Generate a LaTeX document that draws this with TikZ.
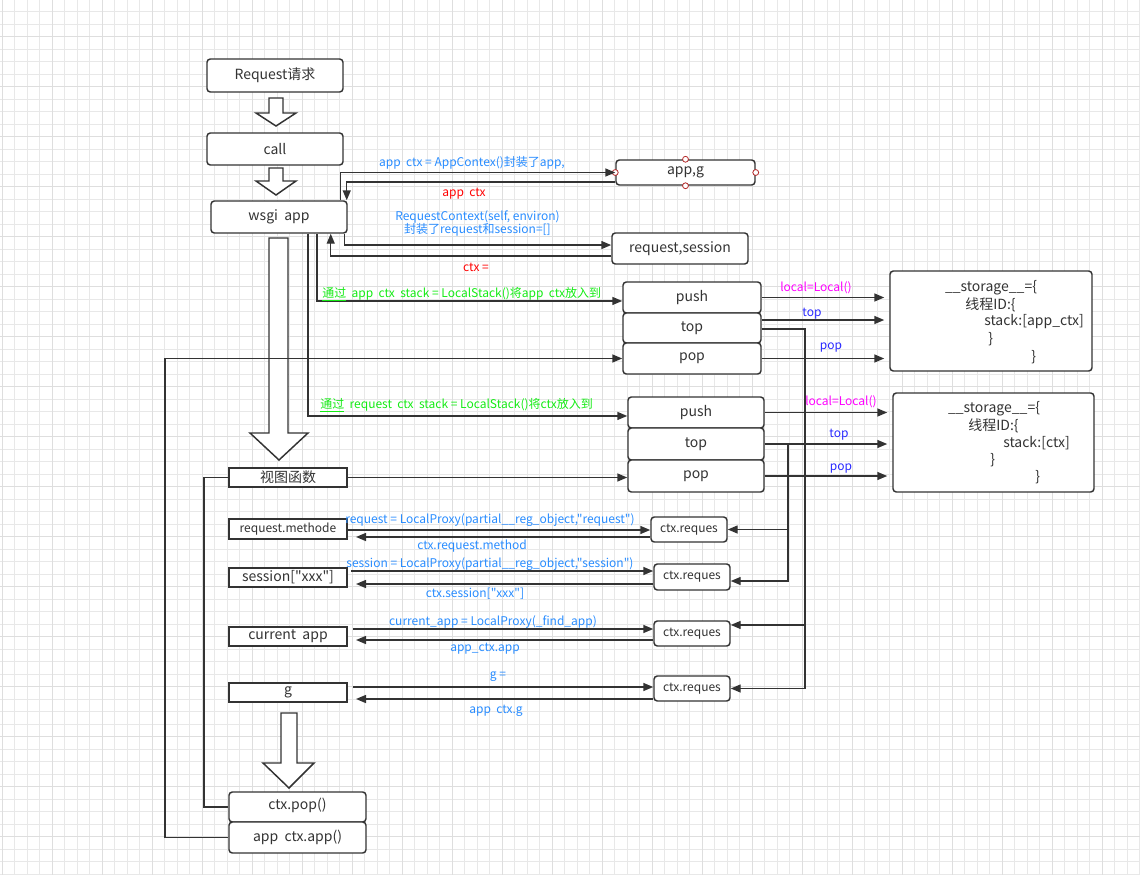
\documentclass[tikz,border=0pt]{standalone}
\usepackage{fontspec}
\setmainfont{Noto Sans CJK SC}[Ligatures=TeXOff]
\usetikzlibrary{arrows.meta}

\definecolor{linegray}{RGB}{51,51,51}
\definecolor{textgray}{RGB}{51,51,51}
\definecolor{lblblue}{RGB}{40,140,255}
\definecolor{topblue}{RGB}{40,40,255}
\definecolor{lblred}{RGB}{255,0,0}
\definecolor{lblpink}{RGB}{255,0,255}
\definecolor{lblgreen}{RGB}{20,235,20}
\definecolor{handlered}{RGB}{180,40,40}

\tikzset{
  box/.style={draw=linegray, line width=1.1pt, rounded corners=2.5pt, fill=white,
    text=textgray, inner sep=0pt, font=\fontsize{10.5}{12}\selectfont},
  sqbox/.style={box, rounded corners=0pt},
  smallbox/.style={box, font=\fontsize{9}{10}\selectfont},
  wire/.style={draw=linegray, line width=1.1pt},
  arr/.style={wire, -{Triangle[length=7.5pt,width=6pt]}},
  hollow/.style={draw=linegray, line width=1.1pt, fill=white},
  lbl/.style={inner sep=0pt, font=\fontsize{9}{9.75}\selectfont},
  stortext/.style={inner sep=0pt, text=textgray, font=\fontsize{10.5}{12}\selectfont},
  handle/.style={draw=handlered, fill=white, line width=0.6pt},
  gridminor/.style={draw=black!9, line width=0.6pt},
  gridmajor/.style={draw=black!13, line width=0.75pt}
}

\begin{document}
\begin{tikzpicture}[x=0.75pt,y=0.75pt,yscale=-1,xscale=1]
\useasboundingbox (0,0) rectangle (1140,875);

%Background grid
\foreach \i in {0,...,91} \draw[gridminor] (2+12.5*\i,0) -- (2+12.5*\i,875);
\foreach \j in {0,...,69} \draw[gridminor] (0,11.7+12.5*\j) -- (1140,11.7+12.5*\j);
\foreach \i in {0,...,22} \draw[gridmajor] (2+50*\i,0) -- (2+50*\i,875);
\foreach \j in {0,...,16} \draw[gridmajor] (0,36.7+50*\j) -- (1140,36.7+50*\j);

%Shape: Down Arrow
\draw[hollow] (269,98) -- (283,98) -- (283,113) -- (296,113) -- (276,126) -- (256,113) -- (269,113) -- cycle ;
%Shape: Down Arrow
\draw[hollow] (269,168) -- (283,168) -- (283,181) -- (296,181) -- (276,195) -- (256,181) -- (269,181) -- cycle ;
%Shape: Down Arrow
\draw[hollow] (269,238) -- (288,238) -- (288,433) -- (308,433) -- (279,460) -- (250,433) -- (269,433) -- cycle ;
%Shape: Down Arrow
\draw[hollow] (281,713) -- (297,713) -- (297,763) -- (314,763) -- (289,788) -- (263,763) -- (281,763) -- cycle ;

%Left column
\node[box, minimum width=102pt, minimum height=24.75pt] (req) at (275,75.5) {Request请求};
\node[box, minimum width=102pt, minimum height=24pt] (call) at (275,149) {call};
\node[box, minimum width=102pt, minimum height=24pt] (wsgi) at (279,217) {wsgi\ \ app};
\node[sqbox, minimum width=88.5pt, minimum height=14.25pt] (view) at (288,477.5) {视图函数};
\node[sqbox, minimum width=88.5pt, minimum height=15pt, font=\fontsize{9}{10}\selectfont] (rm) at (288,529) {request.methode};
\node[sqbox, minimum width=88.5pt, minimum height=14.25pt] (sx) at (288,577.5) {session["xxx"]};
\node[sqbox, minimum width=88.5pt, minimum height=14.25pt] (ca) at (288,636.5) {current\ \ app};
\node[sqbox, minimum width=88.5pt, minimum height=14.25pt] (gg) at (288,692.5) {g};
\node[box, minimum width=102.75pt, minimum height=22.5pt] (cpop) at (297.5,807) {\raisebox{5pt}{ctx.pop()}};
\node[box, minimum width=102.75pt, minimum height=23.25pt] (capp) at (297.5,837.5) {app\ \ ctx.app()};

%Context objects
\node[box, minimum width=104.25pt, minimum height=18.75pt] (appg) at (685.5,172.5) {app,g};
\node[box, minimum width=102pt, minimum height=23.25pt] (reqses) at (680,248.5) {request,session};

%Stacks
\node[box, minimum width=103.5pt, minimum height=23.25pt] (push1) at (692,297.5) {push};
\node[box, minimum width=103.5pt, minimum height=22.5pt] (top1) at (692,328) {top};
\node[box, minimum width=103.5pt, minimum height=23.25pt] (pop1) at (692,358.5) {pop};
\node[box, minimum width=102pt, minimum height=23.25pt] (push2) at (696,412.5) {push};
\node[box, minimum width=102pt, minimum height=24pt] (top2) at (696,444) {top};
\node[box, minimum width=102pt, minimum height=24pt] (pop2) at (696,476) {pop};

%Storage
\node[box, minimum width=151.5pt, minimum height=75pt] (stor1) at (991,321) {};
\node[box, minimum width=150.75pt, minimum height=74.25pt] (stor2) at (993.5,442.5) {};
\node[stortext] (s1a) at (991,288) {\_\_storage\_\_=\{};
\node[stortext, anchor=west] (s1b) at (965,305) {线程ID:\{};
\node[stortext, anchor=west] (s1c) at (984,322) {stack:[app\_ctx]};
\node[stortext, anchor=west] (s1d) at (988,339) {\}};
\node[stortext, anchor=west] (s1e) at (1031,357) {\}};
\node[stortext] (s2a) at (994,409) {\_\_storage\_\_=\{};
\node[stortext, anchor=west] (s2b) at (968,426) {线程ID:\{};
\node[stortext, anchor=west] (s2c) at (1003,443) {stack:[ctx]};
\node[stortext, anchor=west] (s2d) at (990,460) {\}};
\node[stortext, anchor=west] (s2e) at (1035,477) {\}};

%ctx.reques boxes
\node[smallbox, minimum width=57pt, minimum height=18.75pt] (cr1) at (689,529.5) {ctx.reques};
\node[smallbox, minimum width=57pt, minimum height=19.5pt] (cr2) at (692,577) {ctx.reques};
\node[smallbox, minimum width=57pt, minimum height=18.75pt] (cr3) at (692,633.5) {ctx.reques};
\node[smallbox, minimum width=57pt, minimum height=18.75pt] (cr4) at (692,688.5) {ctx.reques};

%Connection handles
\foreach \a in {north,south,east,west} \draw[handle] (appg.\a) circle[radius=2.2pt];

%wsgi app <-> contexts
\draw[arr] ([xshift=-5.25pt]wsgi.north east) |- (appg.west);
\draw[arr] ([yshift=7.1pt]appg.west) -| ([xshift=-0.75pt]wsgi.north east);
\draw[arr] ([xshift=-2.25pt]wsgi.south east) |- ([yshift=-2.6pt]reqses.west);
\draw[arr] ([yshift=5.6pt]reqses.west) -| ([xshift=-12.75pt]wsgi.south east);
\draw[arr] ([xshift=28.5pt]wsgi.south) |- ([yshift=2.6pt]push1.west);
\draw[arr] ([xshift=21.75pt]wsgi.south) |- ([yshift=2.6pt]push2.west);

%Stacks -> storage
\draw[arr, shorten >=3.75pt] (push1.east) -- (push1.east -| stor1.west);
\draw[arr, shorten >=3.75pt] ([yshift=-6pt]top1.east) -- ([yshift=-6pt]top1.east -| stor1.west);
\draw[arr, shorten >=3.75pt] (pop1.east) -- (pop1.east -| stor1.west);
\draw[arr, shorten >=3.75pt] (push2.east) -- (push2.east -| stor2.west);
\draw[arr, shorten >=3.75pt] (top2.east) -- (top2.east -| stor2.west);
\draw[arr, shorten >=3.75pt] (pop2.east) -- (pop2.east -| stor2.west);

%top -> ctx.reques
\coordinate (busA) at (805,329);
\coordinate (busB) at (788,444);
\draw[arr] (top1.east |- busA) -- (busA) |- (cr4.east);
\draw[arr] (busA) |- ([yshift=-6.4pt]cr3.east);
\draw[arr] (top2.east) -- (busB) |- ([yshift=3pt]cr2.east);
\draw[arr] (busB) |- (cr1.east);

%View function and teardown
\coordinate (loopV) at (204,477.5);
\coordinate (loopL) at (165,358.5);
\draw[arr] (view.east) -- (view.east -| pop2.west);
\draw[wire] (view.west) -- (loopV) |- (cpop.west);
\draw[arr] (capp.west) -| (loopL) -- (pop1.west);

%Proxy rows
\coordinate (rmF) at (348,530);  \coordinate (rmB) at (356,537);
\coordinate (sxF) at (351,571);  \coordinate (sxB) at (356,584);
\coordinate (caF) at (353,629);  \coordinate (caB) at (356,640);
\coordinate (ggF) at (353,687);  \coordinate (ggB) at (356,699);
\draw[arr] (rmF) -- (rmF -| cr1.west);
\draw[arr] (cr1.west |- rmB) -- (rmB);
\draw[arr] (sxF) -- (sxF -| cr2.west);
\draw[arr] (cr2.west |- sxB) -- (sxB);
\draw[arr] (caF) -- (caF -| cr3.west);
\draw[arr] (cr3.west |- caB) -- (caB);
\draw[arr] (ggF) -- (ggF -| cr4.west);
\draw[arr] (cr4.west |- ggB) -- (ggB);

% Text Node
\node[lbl, text=lblblue] (tAppctx) at (472,163) {app\ \ ctx = AppContex()封装了app,};
% Text Node
\node[lbl, text=lblred] (tAppret) at (464,194) {app\ \ ctx};
% Text Node
\node[lbl, text=lblblue, align=center] (tReqctx) at (477.5,223.5) {RequestContext(self, environ)\\封装了request和session=[]};
% Text Node
\node[lbl, text=lblred] (tCtxret) at (476,267) {ctx =};
% Text Node
\node[lbl, text=lblgreen, anchor=west] (tPush1) at (322,294) {\underline{通过}\ \ app\ \ ctx\ \ stack = LocalStack()将app\ \ ctx放入到};
% Text Node
\node[lbl, text=lblgreen, anchor=west] (tPush2) at (320,405) {\underline{通过}\ \ request\ \ ctx\ \ stack = LocalStack()将ctx放入到};
% Text Node
\node[lbl, text=lblpink] (tLocal1) at (816,288) {local=Local()};
\node[lbl, text=topblue] (tTop1) at (812,314) {top};
\node[lbl, text=topblue] (tPop1) at (831,348) {pop};
% Text Node
\node[lbl, text=lblpink] (tLocal2) at (841,402) {local=Local()};
\node[lbl, text=topblue] (tTop2) at (839,435) {top};
\node[lbl, text=topblue] (tPop2) at (841,469) {pop};
% Text Node
\node[lbl, text=lblblue] (tRm) at (490,520) {request = LocalProxy(partial\_\_reg\_object,"request")};
\node[lbl, text=lblblue] (tRmB) at (472,546) {ctx.request.method};
% Text Node
\node[lbl, text=lblblue] (tSx) at (490,564) {session = LocalProxy(partial\_\_reg\_object,"session")};
\node[lbl, text=lblblue] (tSxB) at (475,594) {ctx.session["xxx"]};
% Text Node
\node[lbl, text=lblblue] (tCa) at (493,622) {current\_app = LocalProxy(\_find\_app)};
\node[lbl, text=lblblue] (tCaB) at (485,649) {app\_ctx.app};
% Text Node
\node[lbl, text=lblblue] (tGg) at (498,677) {g =};
\node[lbl, text=lblblue] (tGgB) at (496,711) {app\ \ ctx.g};

\end{tikzpicture}
\end{document}
